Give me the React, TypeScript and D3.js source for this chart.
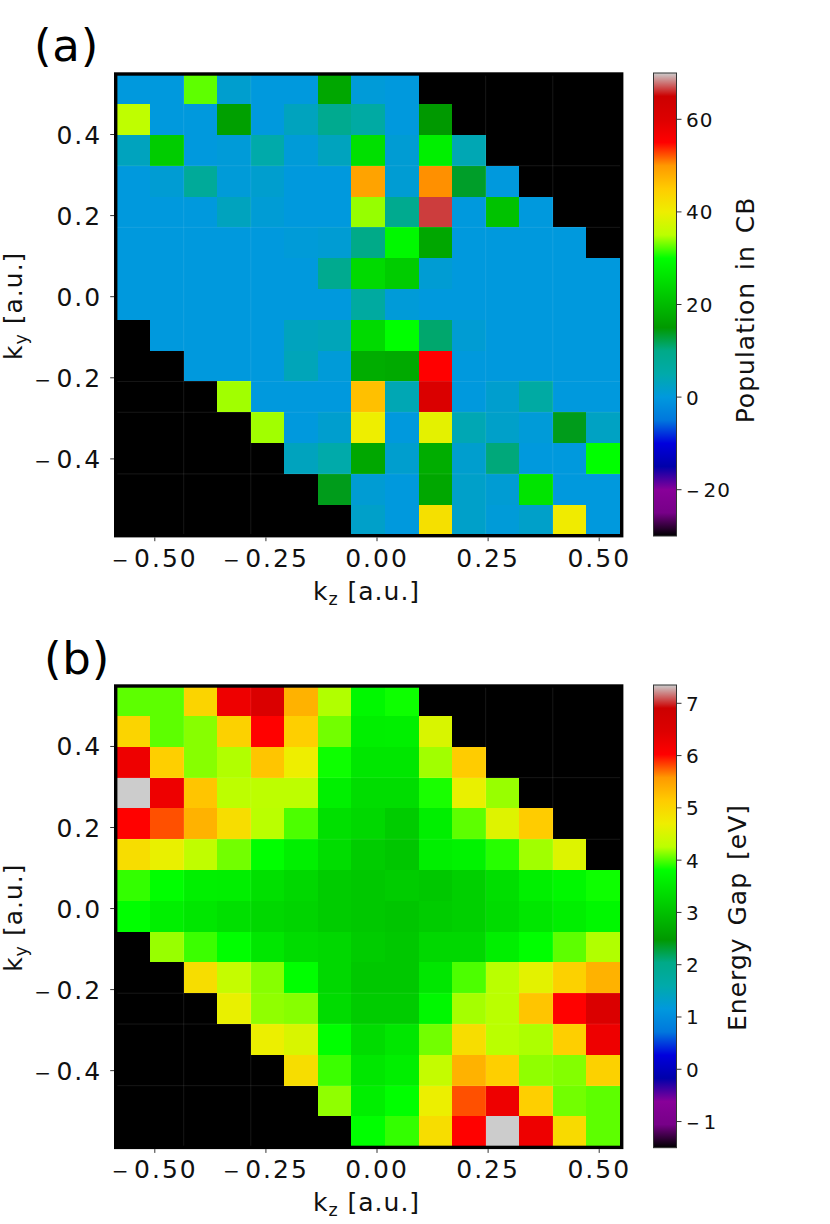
import React from "react";
import * as d3 from "d3";

const _ = null;

const populationRows: (number | null)[][] = [
  [0, 0, 32.5, 1.5, 0, 0, 17, 0.5, 0, _, _, _, _, _, _],
  [35.4, 0, 0, 16, 0, 3, 9, 6, 0, 15, _, _, _, _, _],
  [3, 22.5, 0, 0.5, 5, 0.5, 3, 25.5, 1, 27.8, 4, _, _, _, _],
  [0, 1, 7.5, 0.5, 1.5, 0, 0, 49, 1, 50.3, 13.5, 0, _, _, _],
  [0, 0, 0, 3, 0.8, 0, 0, 34, 9, 66.5, 0, 21, 0, _, _],
  [0, 0, 0, 0, 0, 0.5, 1, 10, 29, 17, 0, 0, 0, 0, _],
  [0, 0, 0, 0, 0, 0, 9, 24.5, 22.5, 1, 0, 0, 0, 0, 0],
  [0, 0, 0, 0, 0, 0, 0, 6.5, 0.5, 0, 0, 0, 0, 0, 0],
  [_, 0, 0, 0, 0, 3, 3.5, 24.5, 30, 11, 1, 0, 0, 0, 0],
  [_, _, 0, 0, 0, 3.5, 0.5, 18, 17.5, 55, 0, 0, 0, 0, 0],
  [_, _, _, 34.3, 0, 0, 0, 46.2, 4, 61, 0, 1.5, 6, 0, 0],
  [_, _, _, _, 34.3, 0, 1.5, 40, 0, 39, 4, 2, 0.5, 14, 2.5],
  [_, _, _, _, _, 3, 5, 17, 1.5, 18, 1.5, 10.5, 0, 0, 30],
  [_, _, _, _, _, _, 14, 1, 0, 17, 2, 1, 26, 0, 0],
  [_, _, _, _, _, _, _, 2, 0, 42, 2, 0.5, 2, 40.5, 0],
];

const gapRows: (number | null)[][] = [
  [4.03, 4.03, 5.03, 6.24, 6.55, 5.36, 4.23, 3.72, 3.84, _, _, _, _, _, _],
  [5.03, 4.03, 4.13, 5.07, 6.02, 5.1, 4.08, 3.6, 3.62, 4.5, _, _, _, _, _],
  [6.24, 5.1, 4.13, 4.23, 5.2, 4.7, 3.84, 3.5, 3.5, 4.19, 5.14, _, _, _, _],
  [7.35, 6.24, 5.2, 4.27, 4.27, 4.27, 3.62, 3.37, 3.37, 3.87, 4.65, 4.17, _, _, _],
  [6.02, 5.79, 5.36, 4.92, 4.25, 3.99, 3.41, 3.3, 3.15, 3.6, 4.03, 4.56, 5.14, _, _],
  [4.92, 4.65, 4.3, 4.08, 3.81, 3.62, 3.37, 3.15, 3.07, 3.6, 3.65, 3.9, 4.19, 4.55, _],
  [3.93, 3.81, 3.62, 3.6, 3.41, 3.3, 3.15, 3.1, 3.15, 3.1, 3.2, 3.4, 3.62, 3.72, 3.84],
  [3.81, 3.62, 3.5, 3.41, 3.3, 3.25, 3.15, 3.1, 3.05, 3.15, 3.2, 3.35, 3.5, 3.6, 3.72],
  [_, 4.17, 3.95, 3.81, 3.5, 3.35, 3.3, 3.15, 3.1, 3.3, 3.3, 3.6, 3.81, 4.03, 4.23],
  [_, _, 4.92, 4.34, 4.13, 3.81, 3.3, 3.1, 3.1, 3.5, 3.99, 4.25, 4.6, 5.07, 5.36],
  [_, _, _, 4.65, 4.15, 4.13, 3.35, 3.15, 3.15, 3.72, 4.2, 4.25, 5.2, 6.02, 6.55],
  [_, _, _, _, 4.68, 4.5, 3.81, 3.35, 3.5, 4.08, 4.92, 4.25, 4.22, 5.1, 6.24],
  [_, _, _, _, _, 4.92, 3.95, 3.5, 3.6, 4.33, 5.36, 5.1, 4.15, 4.12, 5.07],
  [_, _, _, _, _, _, 4.15, 3.6, 3.81, 4.68, 5.79, 6.24, 5.1, 4.08, 4.03],
  [_, _, _, _, _, _, _, 3.81, 3.93, 4.92, 6.02, 7.35, 6.24, 4.95, 4.03],
];

const kzEdges = [-0.586, -0.5105, -0.435, -0.3595, -0.284, -0.2085, -0.133, -0.0575, 0.018, 0.0935, 0.169, 0.2445, 0.32, 0.3955, 0.471, 0.5465];
const kyEdges = [0.551, 0.475, 0.399, 0.323, 0.247, 0.171, 0.095, 0.019, -0.057, -0.133, -0.209, -0.285, -0.361, -0.437, -0.513, -0.589];
const kzLimits = [-0.588, 0.5506];
const kyLimits = [-0.5894, 0.5492];
const kzTicks = [-0.5, -0.25, 0, 0.25, 0.5];
const kyTicks = [0.4, 0.2, 0, -0.2, -0.4];
const seamKz = [2, 4, 11, 13];
const seamKy = [3, 5, 10, 11, 13];
const populationTicks = [60, 40, 20, 0, -20];
const gapTicks = [7, 6, 5, 4, 3, 2, 1, 0, -1];
const populationDomain = [-30, 70];
const gapDomain = [-1.5, 7.35];

const cmapPositions = d3.range(21).map((i) => i / 20);
const cmapRed = [0, 0.4667, 0.5333, 0, 0, 0, 0, 0, 0, 0, 0, 0, 0, 0.7333, 0.9333, 1, 1, 1, 0.8667, 0.8, 0.8];
const cmapGreen = [0, 0, 0, 0, 0, 0.4667, 0.6, 0.6667, 0.6667, 0.6, 0.7333, 0.8667, 1, 1, 0.9333, 0.8, 0.6, 0, 0, 0, 0.8];
const cmapBlue = [0, 0.5333, 0.6, 0.6667, 0.8667, 0.8667, 0.8667, 0.6667, 0.5333, 0, 0, 0, 0, 0, 0, 0, 0, 0, 0, 0, 0.8];
const cmapColors = cmapPositions.map((_p, i) =>
  d3.rgb(cmapRed[i] * 255, cmapGreen[i] * 255, cmapBlue[i] * 255).formatHex()
);
const cmap = d3.scaleLinear<string>().domain(cmapPositions).range(cmapColors).interpolate(d3.interpolateRgb).clamp(true);

const FONT = "'DejaVu Sans', sans-serif";
const TICK_COLOR = "#333";
const TICK_SIZE = 25;
const LABEL_SIZE = 25;
const CBAR_TICK_SIZE = 20;
const CBAR_LABEL_SIZE = 25;

function Num({ text, size, gap }: { text: string; size: number; gap: number }) {
  if (!text.startsWith("-")) return <>{text}</>;
  return (
    <>
      <tspan fontSize={size * 0.8}>{"\u2212"}</tspan>
      <tspan dx={gap}>{text.slice(1)}</tspan>
    </>
  );
}

type PanelProps = {
  id: string;
  tag: string;
  tagX: number;
  tagY: number;
  top: number;
  bottom: number;
  rows: (number | null)[][];
  domain: number[];
  cbarTicks: number[];
  cbarTop: number;
  cbarBottom: number;
  cbarLabel: string;
  cbarLabelX: number;
  cbarLabelY: number;
};

function Panel(p: PanelProps) {
  const left = 115.7;
  const right = 621.7;
  const x = d3.scaleLinear().domain(kzLimits).range([left, right]);
  const y = d3.scaleLinear().domain(kyLimits).range([p.bottom, p.top]);
  const norm = d3.scaleLinear().domain(p.domain).range([0, 1]);
  const cy = d3.scaleLinear().domain(p.domain).range([p.cbarBottom, p.cbarTop]);
  const cbLeft = 653.5;
  const cbRight = 676.5;
  const mid = (p.top + p.bottom) / 2;
  return (
    <g fontFamily={FONT} fill="#111">
      <text x={p.tagX} y={p.tagY} fontSize={45} fill="#000" letterSpacing={0.8}>{p.tag}</text>
      <rect x={left} y={p.top} width={right - left} height={p.bottom - p.top} fill="#000" />
      <g shapeRendering="crispEdges">
        {p.rows.map((row, r) =>
          row.map((v, c) =>
            v === null ? null : (
              <rect
                key={`${r}-${c}`}
                x={x(kzEdges[c])}
                y={y(kyEdges[r])}
                width={x(kzEdges[c + 1]) - x(kzEdges[c])}
                height={y(kyEdges[r + 1]) - y(kyEdges[r])}
                fill={cmap(norm(v))}
              />
            )
          )
        )}
      </g>
      <g stroke="#fff" strokeOpacity={0.09} strokeWidth={1}>
        {seamKz.map((i) => (
          <line key={i} x1={x(kzEdges[i])} x2={x(kzEdges[i])} y1={p.top} y2={p.bottom} />
        ))}
        {seamKy.map((i) => (
          <line key={i} x1={left} x2={right} y1={y(kyEdges[i])} y2={y(kyEdges[i])} />
        ))}
      </g>
      <rect x={left} y={p.top} width={right - left} height={p.bottom - p.top} fill="none" stroke="#000" strokeWidth={3.4} />
      {kzTicks.map((t) => (
        <g key={t}>
          <line x1={x(t)} x2={x(t)} y1={p.bottom + 1.7} y2={p.bottom + 5.5} stroke={TICK_COLOR} strokeWidth={1} />
          <text x={x(t)} y={p.bottom + 31} fontSize={TICK_SIZE} textAnchor="middle" letterSpacing={2}>
            <Num text={t.toFixed(2)} size={TICK_SIZE} gap={3.5} />
          </text>
        </g>
      ))}
      {kyTicks.map((t) => (
        <g key={t}>
          <line x1={left - 1.7} x2={left - 5.5} y1={y(t)} y2={y(t)} stroke={TICK_COLOR} strokeWidth={1} />
          <text x={left - 13.5} y={y(t) + 9} fontSize={TICK_SIZE} textAnchor="end" letterSpacing={2}>
            <Num text={t.toFixed(1)} size={TICK_SIZE} gap={3.5} />
          </text>
        </g>
      ))}
      <text x={366.5} y={p.bottom + 64} fontSize={LABEL_SIZE} textAnchor="middle" letterSpacing={1}>
        k<tspan fontSize={LABEL_SIZE * 0.7} dy={5}>z</tspan><tspan dy={-5}> [a.u.]</tspan>
      </text>
      <text transform={`translate(22,${mid + 1}) rotate(-90)`} fontSize={LABEL_SIZE} textAnchor="middle" letterSpacing={1}>
        k<tspan fontSize={LABEL_SIZE * 0.7} dy={5}>y</tspan><tspan dy={-5}> [a.u.]</tspan>
      </text>
      <linearGradient id={p.id} x1="0" x2="0" y1="1" y2="0">
        {cmapPositions.map((s, i) => (
          <stop key={i} offset={s} stopColor={cmapColors[i]} />
        ))}
      </linearGradient>
      <rect x={cbLeft} y={p.cbarTop} width={cbRight - cbLeft} height={p.cbarBottom - p.cbarTop} fill={`url(#${p.id})`} stroke="#333" strokeWidth={1} />
      {p.cbarTicks.map((t) => (
        <g key={t}>
          <line x1={cbRight} x2={cbRight + 5} y1={cy(t)} y2={cy(t)} stroke={TICK_COLOR} strokeWidth={1} />
          <text x={cbRight + 9.5} y={cy(t) + 7.5} fontSize={CBAR_TICK_SIZE} letterSpacing={1}>
            <Num text={String(t)} size={CBAR_TICK_SIZE} gap={3} />
          </text>
        </g>
      ))}
      <text transform={`translate(${p.cbarLabelX},${p.cbarLabelY}) rotate(-90)`} fontSize={CBAR_LABEL_SIZE} textAnchor="middle" letterSpacing={1} wordSpacing={3}>{p.cbarLabel}</text>
    </g>
  );
}

export default function App() {
  return (
    <svg width={830} height={1224} viewBox="0 0 830 1224" style={{ position: "absolute", left: 0, top: 0, background: "#fff" }}>
      <Panel id="cbA" tag="(a)" tagX={34} tagY={61} top={74} bottom={535.7} rows={populationRows} domain={populationDomain} cbarTicks={populationTicks} cbarTop={73} cbarBottom={536} cbarLabel="Population in CB" cbarLabelX={753.5} cbarLabelY={310} />
      <Panel id="cbB" tag="(b)" tagX={44} tagY={673.5} top={686} bottom={1147.4} rows={gapRows} domain={gapDomain} cbarTicks={gapTicks} cbarTop={685} cbarBottom={1147.7} cbarLabel="Energy Gap [eV]" cbarLabelX={746} cbarLabelY={917.5} />
    </svg>
  );
}
